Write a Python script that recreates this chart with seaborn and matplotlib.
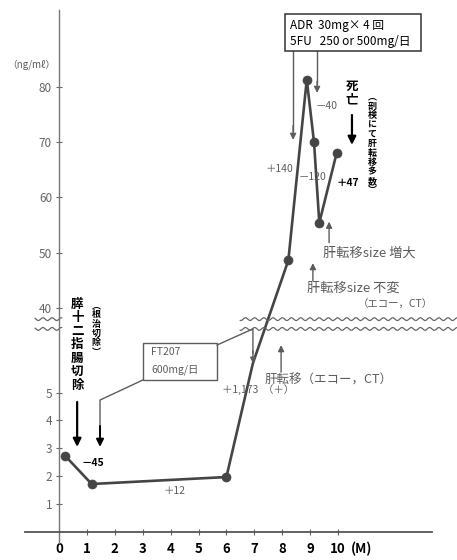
import numpy as np
import pandas as pd
import matplotlib.pyplot as plt
import seaborn as sns

# marker level per visit (months after surgery, ng/ml)
months = [0.23, 1.17, 6.0, 6.95, 8.22, 8.88, 9.14, 9.33, 9.95]
values = [2.72, 1.72, 1.97, 6.05, 48.6, 81.3, 70.0, 55.4, 68.0]
has_dot = [True, True, True, False, True, True, True, True, True]

x_ticks = [0, 1, 2, 3, 4, 5, 6, 7, 8, 9, 10]
y_ticks = [1, 2, 3, 4, 5, 40, 50, 60, 70, 80]

# broken y axis: 0-7.25 on a fine scale, everything above 38.1 compressed
v_knots = [-50, 7.25, 38.1, 150]
t_knots = [-50, 7.25, 7.66, 7.66 + (150 - 38.1) * 0.198]


def fwd(v):
    return np.interp(v, v_knots, t_knots)


def inv(t):
    return np.interp(t, t_knots, v_knots)


sns.set_theme(style="white")
plt.rcParams['font.family'] = ['Noto Sans CJK JP', 'DejaVu Sans']

LINE = '#454545'
GRAY = '#5c5c5c'

fig = plt.figure(figsize=(4.57, 5.60), dpi=100)
ax = fig.add_axes([0, 0, 1, 1])
ax.set_yscale('function', functions=(fwd, inv))

df = pd.DataFrame({'month': months, 'cea': values, 'dot': has_dot})
sns.lineplot(data=df, x='month', y='cea', color=LINE, lw=1.9, ax=ax,
             sort=False, estimator=None)
sns.scatterplot(data=df[df['dot']], x='month', y='cea', color=LINE, s=42,
                edgecolor=LINE, linewidth=0.5, ax=ax, zorder=3)

ax.set_xlim(-2.115, 14.265)
ax.set_ylim(-1.004, inv(19.07))
ax.set_xlabel('')
ax.set_ylabel('')

# axes through the origin
for side in ['top', 'right']:
    ax.spines[side].set_visible(False)
ax.spines['left'].set_position(('data', 0))
ax.spines['bottom'].set_position(('data', 0))
ax.spines['left'].set_bounds(-0.39, inv(18.71))
ax.spines['bottom'].set_bounds(-1.22, 13.37)
ax.spines['left'].set_color('#777777')
ax.spines['left'].set_linewidth(1.0)
ax.spines['bottom'].set_color('#555555')
ax.spines['bottom'].set_linewidth(1.3)

ax.set_xticks(x_ticks)
ax.set_xticklabels([str(x) for x in x_ticks], fontweight='bold')
ax.set_yticks(y_ticks)
ax.set_yticklabels([str(y) for y in y_ticks])
ax.tick_params(bottom=True, left=True, direction='inout', length=4,
               width=0.8, color='#666666')
ax.tick_params(axis='x', pad=5, labelsize=9.5, labelcolor='black')
ax.tick_params(axis='y', pad=3, labelsize=8.5, labelcolor='#666666')

ax.text(10.84, -0.62, '(M)', ha='center', va='center', fontsize=9.5,
        fontweight='bold', color='black')
ax.text(-1.0, 84.0, '（ng/mℓ）', ha='center', va='center', fontsize=7,
        color=GRAY)


# wavy break marks
def wave(x0, x1, t):
    xs = np.linspace(x0, x1, 300)
    ax.plot(xs, inv(t + 0.05 * np.sin(xs / 0.33 * 2 * np.pi)),
            color='#666666', lw=0.9)


for t in (7.28, 7.63):
    wave(-0.86, 0.1, t)
    wave(6.49, 14.3, t)


def arrow(x, y0, y1, color=GRAY, lw=1.0, ms=9):
    ax.annotate('', xy=(x, y1), xytext=(x, y0),
                arrowprops=dict(arrowstyle='-|>', color=color, lw=lw,
                                mutation_scale=ms, shrinkA=0, shrinkB=0))


def vtext(x, y, s, **kw):
    ax.text(x, y, '\n'.join(s), ha='center', va='center',
            multialignment='center', **kw)


# surgery
vtext(0.66, 6.72, '膵十二指腸切除', fontsize=9, fontweight='bold',
      color='black', linespacing=1.05)
arrow(0.65, 4.66, 3.05, color='black', lw=1.6, ms=12)
vtext(1.33, inv(7.28), '︵根治切除︶', fontsize=6.5, fontweight='bold',
      color='black', linespacing=1.05)

# FT207 box with its two leaders
ax.add_patch(plt.Rectangle((3.01, 5.45), 2.65, 1.32, fill=False,
                           edgecolor=GRAY, lw=1.0))
ax.text(3.3, 6.45, 'FT207', fontsize=7.5, color=GRAY, va='center')
ax.text(3.3, 5.81, '600mg/日', fontsize=7.5, color=GRAY, va='center')
ax.plot([3.01, 1.47, 1.47], [5.45, 4.73, 3.6], color=GRAY, lw=1.0)
arrow(1.47, 3.8, 3.05, color='black', lw=1.4, ms=11)
ax.plot([5.66, 6.95, 6.95], [6.70, inv(7.28), 6.4], color=GRAY, lw=1.0)
arrow(6.95, 6.5, 6.05, ms=8)

ax.text(0.82, 2.47, '－45', fontsize=7.5, fontweight='bold', color='black',
        va='center')
ax.text(3.73, 1.47, '＋12', fontsize=7.5, color=GRAY, va='center')
ax.text(5.84, 5.09, '＋1,173  （＋）', fontsize=7.5, color=GRAY, va='center')

ax.text(7.38, 5.45, '肝転移（エコー，CT）', fontsize=9, color=GRAY,
        va='center')
arrow(7.96, 5.73, 6.70)

ax.text(8.89, 43.6, '肝転移size 不変', fontsize=9.5, color=GRAY, va='center')
ax.text(10.72, 40.7, '（エコー，CT）', fontsize=7.5, color=GRAY, va='center')
arrow(9.1, 44.9, 48.1)
ax.text(9.46, 49.8, '肝転移size 増大', fontsize=9.5, color=GRAY, va='center')
arrow(9.68, 51.8, 55.6)

# chemotherapy box
ax.add_patch(plt.Rectangle((8.10, 86.5), 4.87, 6.7, fill=False,
                           edgecolor='#333333', lw=1.1, zorder=4))
ax.text(8.28, 91.2, 'ADR  30mg× 4 回', fontsize=8.5, color='black',
        va='center')
ax.text(8.28, 88.3, '5FU   250 or 500mg/日', fontsize=8.5, color='black',
        va='center')
ax.plot([8.39, 8.39], [86.5, 72.0], color=GRAY, lw=1.0)
arrow(8.39, 73.0, 70.4)
ax.plot([9.25, 9.25], [86.5, 80.5], color=GRAY, lw=1.0)
arrow(9.25, 81.0, 78.9)

ax.text(9.18, 76.6, '－40', fontsize=7.5, color=GRAY, va='center')
ax.text(8.39, 65.2, '＋140', fontsize=7.5, color=GRAY, va='center',
        ha='right')
ax.text(8.6, 63.7, '－120', fontsize=7.5, color=GRAY, va='center')
ax.text(9.96, 62.6, '＋47', fontsize=7.5, color='black', fontweight='bold',
        va='center')

# death
vtext(10.5, 78.9, '死亡', fontsize=9, fontweight='bold', color='black',
      linespacing=1.05)
arrow(10.5, 74.9, 69.5, color='black', lw=1.6, ms=12)
vtext(11.22, 69.7, '︵剖検にて肝転移多数︶', fontsize=6.5, fontweight='bold',
      color='black', linespacing=1.05)

plt.savefig('out.png', dpi=100)
